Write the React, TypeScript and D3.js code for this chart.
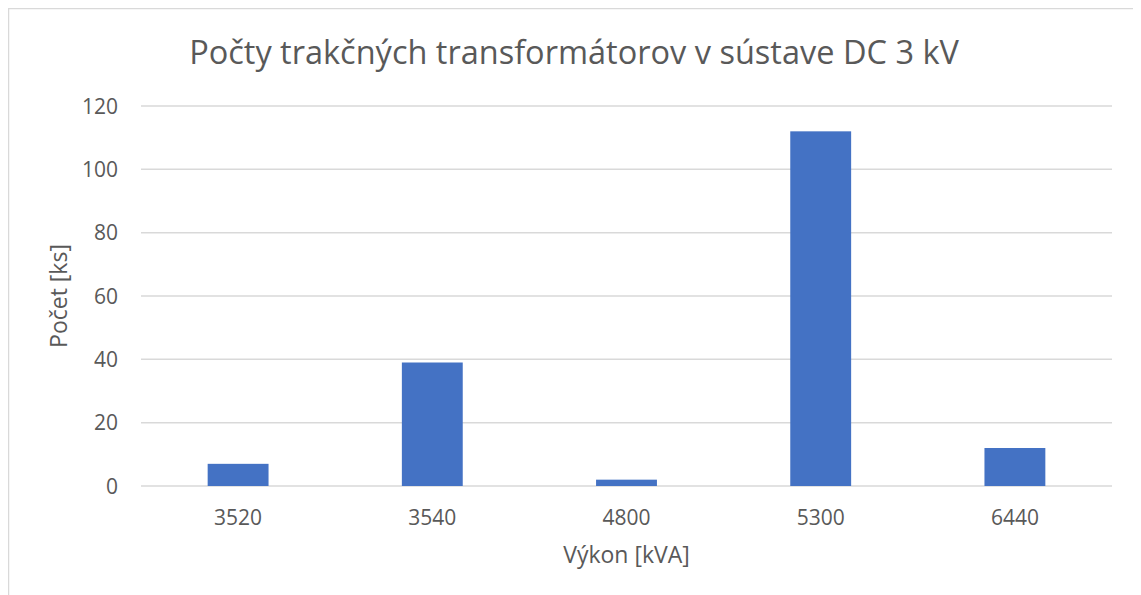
import { useEffect, useRef } from "react";
import * as d3 from "d3";

const categories = ["3520", "3540", "4800", "5300", "6440"];
const counts = [7, 39, 2, 112, 12];
const yTicks = [0, 20, 40, 60, 80, 100, 120];

const TITLE = "Počty trakčných transformátorov v sústave DC 3 kV";
const X_TITLE = "Výkon [kVA]";
const Y_TITLE = "Počet [ks]";

const W = 1127, H = 600;
const m = { l: 133, r: 23, t: 98, b: H - 478 };
const FONT = "'Open Sans', 'DejaVu Sans', sans-serif";
const TEXT = "#595959";
const GRID = "#d9d9d9";
const BAR = "#4472c4";

export default function App() {
  const ref = useRef<SVGSVGElement | null>(null);

  useEffect(() => {
    const svg = d3.select(ref.current);
    svg.selectAll("*").remove();

    const x = d3.scaleBand<string>()
      .domain(categories)
      .range([m.l, W - m.r])
      .paddingInner(0)
      .paddingOuter(0);

    const y = d3.scaleLinear()
      .domain([0, 120])
      .range([H - m.b, m.t]);

    // chart border
    svg.append("rect")
      .attr("x", 0.5).attr("y", 0.5)
      .attr("width", W - 1).attr("height", H + 20)
      .attr("fill", "white")
      .attr("stroke", GRID)
      .attr("stroke-width", 1.5);

    // gridlines
    svg.append("g")
      .selectAll("line")
      .data(yTicks)
      .enter()
      .append("line")
      .attr("x1", m.l).attr("x2", W - m.r)
      .attr("y1", d => y(d)).attr("y2", d => y(d))
      .attr("stroke", GRID)
      .attr("stroke-width", 1.5);

    // bars (gap width ~219%)
    const bw = x.bandwidth() / 3.19;
    svg.append("g")
      .selectAll("rect")
      .data(counts)
      .enter()
      .append("rect")
      .attr("x", (_, i) => (x(categories[i]) ?? 0) + x.bandwidth() / 2 - bw / 2)
      .attr("width", bw)
      .attr("y", d => y(d))
      .attr("height", d => y(0) - y(d))
      .attr("fill", BAR);

    // y tick labels
    svg.append("g")
      .selectAll("text")
      .data(yTicks)
      .enter()
      .append("text")
      .attr("x", m.l - 23)
      .attr("y", d => y(d))
      .attr("dy", "0.36em")
      .attr("text-anchor", "end")
      .attr("fill", TEXT)
      .attr("font-family", FONT)
      .attr("font-size", 21)
      .text(d => String(d));

    // x tick labels
    svg.append("g")
      .selectAll("text")
      .data(categories)
      .enter()
      .append("text")
      .attr("x", d => (x(d) ?? 0) + x.bandwidth() / 2)
      .attr("y", 517)
      .attr("text-anchor", "middle")
      .attr("fill", TEXT)
      .attr("font-family", FONT)
      .attr("font-size", 21)
      .text(d => d);

    // title
    svg.append("text")
      .attr("x", 566)
      .attr("y", 56)
      .attr("text-anchor", "middle")
      .attr("fill", TEXT)
      .attr("font-family", FONT)
      .attr("font-size", 32.5)
      .text(TITLE);

    // axis titles
    svg.append("text")
      .attr("x", (m.l + W - m.r) / 2)
      .attr("y", 555)
      .attr("text-anchor", "middle")
      .attr("fill", TEXT)
      .attr("font-family", FONT)
      .attr("font-size", 23)
      .text(X_TITLE);

    svg.append("text")
      .attr("transform", `translate(59,${(m.t + H - m.b) / 2}) rotate(-90)`)
      .attr("text-anchor", "middle")
      .attr("fill", TEXT)
      .attr("font-family", FONT)
      .attr("font-size", 23)
      .text(Y_TITLE);
  }, []);

  return <svg ref={ref} width={W} height={H} style={{ display: "block" }} />;
}
